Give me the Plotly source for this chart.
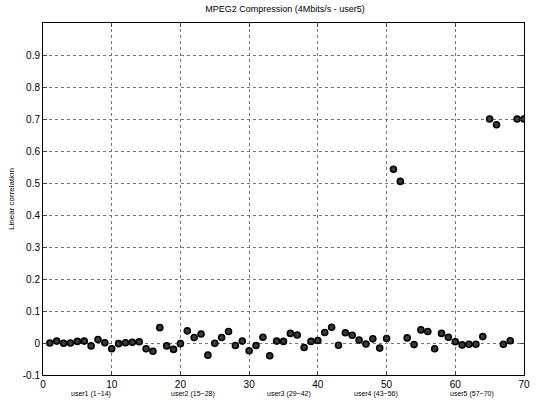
import plotly.graph_objects as go

# Low-correlation points (index, value)
low_x = list(range(1, 51)) + list(range(53, 65)) + [67, 68]
low_y = [0.000, 0.006, -0.001, 0.000, 0.005, 0.006, -0.009, 0.011, 0.001, -0.018,
         -0.002, 0.001, 0.002, 0.004, -0.018, -0.026, 0.048, -0.009, -0.020, -0.002,
         0.038, 0.017, 0.028, -0.038, -0.001, 0.017, 0.036, -0.008, 0.006, -0.024,
         -0.008, 0.018, -0.040, 0.006, 0.005, 0.030, 0.025, -0.014, 0.005, 0.008,
         0.033, 0.049, -0.007, 0.032, 0.024, 0.009, -0.003, 0.013, -0.016, 0.014,
         0.016, -0.005, 0.041, 0.036, -0.018, 0.030, 0.018, 0.004, -0.006, -0.004,
         -0.004, 0.020,
         -0.004, 0.007]
# High-correlation points
high_x = [51, 52, 65, 66, 69, 70]
high_y = [0.543, 0.505, 0.700, 0.682, 0.700, 0.700]

x_all = low_x + high_x
y_all = low_y + high_y

user_labels = ["user1 (1~14)", "user2 (15~28)", "user3 (29~42)", "user4 (43~56)", "user5 (57~70)"]
user_centers = [7, 21.8, 35.8, 48.5, 62.5]

x_ticks = list(range(0, 71, 10))
y_ticks = [-0.1, 0, 0.1, 0.2, 0.3, 0.4, 0.5, 0.6, 0.7, 0.8, 0.9]
y_tick_text = ["-0.1", "0", "0.1", "0.2", "0.3", "0.4", "0.5", "0.6", "0.7", "0.8", "0.9"]

fig = go.Figure()
fig.add_trace(go.Scatter(
    x=x_all, y=y_all, mode="markers",
    marker=dict(size=6, color="#3a3a3a", line=dict(color="#000000", width=1.6)),
    showlegend=False,
))

font_family = "Liberation Sans, Arial, sans-serif"

fig.update_layout(
    width=541, height=401,
    margin=dict(l=41, r=11, t=23, b=24),
    paper_bgcolor="white", plot_bgcolor="white",
    title=dict(text="MPEG2 Compression (4Mbits/s - user5)", x=0.527, xanchor="center",
               y=0.978, yanchor="middle",
               font=dict(family=font_family, size=9, color="black")),
    font=dict(family=font_family, color="black"),
)

fig.update_xaxes(
    range=[0, 70], tickvals=x_ticks, ticks="inside", ticklen=4,
    tickfont=dict(size=10, color="black", family=font_family),
    showline=True, linecolor="black", linewidth=1, mirror="allticks",
    showgrid=True, gridcolor="#777777", gridwidth=1, griddash="dot",
    zeroline=False,
)
fig.update_yaxes(
    range=[-0.1, 1.0], tickvals=y_ticks, ticktext=y_tick_text, ticks="inside", ticklen=4,
    tickfont=dict(size=10, color="black", family=font_family),
    showline=True, linecolor="black", linewidth=1, mirror="allticks",
    showgrid=True, gridcolor="#777777", gridwidth=1, griddash="dot",
    zeroline=False,
    title=dict(text="Linear correlation", font=dict(size=8, color="black", family=font_family),
               standoff=6),
)

for lbl, cx in zip(user_labels, user_centers):
    fig.add_annotation(text=lbl, x=cx, y=0, xref="x", yref="paper", yshift=-19,
                       yanchor="middle", showarrow=False,
                       font=dict(size=7, color="black", family=font_family))

fig.write_html("out.html")
